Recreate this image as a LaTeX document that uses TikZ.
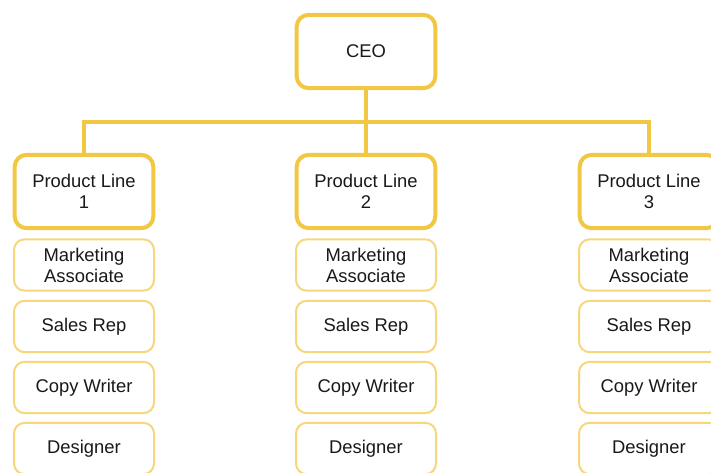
\documentclass[tikz,border=0pt]{standalone}
\usepackage{fontspec}
\setmainfont{Liberation Sans}
\definecolor{gold}{HTML}{F2C744}
\definecolor{lightgold}{HTML}{F6D77C}
\begin{document}
\begin{tikzpicture}[x=0.75pt,y=-0.75pt,
  lead/.style={draw=gold,line width=3pt,rounded corners=9pt,fill=white,
    minimum width=104pt,minimum height=55pt,align=center,
    font=\fontsize{13.8}{15.75}\selectfont,text=black!90},
  staff/.style={draw=lightgold,line width=1.5pt,rounded corners=8pt,fill=white,
    minimum width=105pt,minimum height=38.5pt,align=center,
    font=\fontsize{13.8}{15.75}\selectfont,text=black!90},
  link/.style={draw=gold,line width=2.3pt}]
\useasboundingbox (0,0) rectangle (711,472);
\fill[white] (0,0) rectangle (711,472);

% top of the chart
\node[lead] (ceo) at (366,51.5) {CEO};

% one column per product line
\foreach \i/\x in {1/84,2/366,3/649}{
  \node[lead] (pl\i) at (\x,191.5) {Product Line\\\i};
  \node[staff] (ma\i) at (\x,265) {Marketing\\Associate};
  \node[staff] (sr\i) at (\x,326.5) {Sales Rep};
  \node[staff] (cw\i) at (\x,387.5) {Copy Writer};
  \node[staff] (ds\i) at (\x,448.5) {Designer};
}

% reporting lines through a common bus
\coordinate (bus) at (366,122);
\draw[link] (ceo.south) -- (bus);
\draw[link] (pl1.north) |- (bus) -| (pl3.north);
\draw[link] (bus) -- (pl2.north);
\end{tikzpicture}
\end{document}
